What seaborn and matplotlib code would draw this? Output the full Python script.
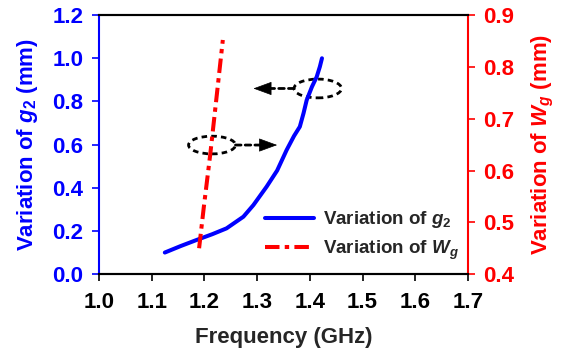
"""Variation of g2 and Wg versus frequency (twin y axes)."""
import matplotlib
matplotlib.use("Agg")
import matplotlib.pyplot as plt
import seaborn as sns
from matplotlib.patches import Ellipse

# data
freq_g2 = [1.125, 1.155, 1.185, 1.215, 1.242, 1.274, 1.293, 1.318, 1.338,
           1.356, 1.370, 1.381, 1.388, 1.394, 1.404, 1.413, 1.419, 1.423]
g2_mm = [0.100, 0.130, 0.158, 0.185, 0.212, 0.266, 0.320, 0.405, 0.480,
         0.575, 0.640, 0.683, 0.745, 0.806, 0.868, 0.914, 0.961, 1.000]
freq_wg = [1.190, 1.199, 1.211, 1.224, 1.235]
wg_mm = [0.45, 0.53, 0.63, 0.75, 0.852]

x_ticks = [1.0, 1.1, 1.2, 1.3, 1.4, 1.5, 1.6, 1.7]
left_ticks = [0.0, 0.2, 0.4, 0.6, 0.8, 1.0, 1.2]
right_ticks = [0.4, 0.5, 0.6, 0.7, 0.8, 0.9]

BLUE = "#0000ff"
RED = "#ff0000"

sns.set_style("ticks")
plt.rcParams["font.family"] = ["Liberation Sans", "DejaVu Sans"]
plt.rcParams["font.weight"] = "bold"
plt.rcParams["mathtext.fontset"] = "custom"
plt.rcParams["mathtext.rm"] = "Liberation Sans:bold"
plt.rcParams["mathtext.it"] = "Liberation Sans:italic:bold"
plt.rcParams["mathtext.bf"] = "Liberation Sans:bold"

fig = plt.figure(figsize=(5.75, 3.51), dpi=100)
ax = fig.add_axes([0.172, 0.219, 0.642, 0.738])
ax2 = ax.twinx()

sns.lineplot(x=freq_g2, y=g2_mm, ax=ax, sort=False, color=BLUE, lw=2.9,
             label=r"Variation of $g_2$", legend=False)
sns.lineplot(x=freq_wg, y=wg_mm, ax=ax2, sort=False, color=RED, lw=2.9,
             label=r"Variation of $W_g$", legend=False)
ax.lines[0].set_solid_capstyle("round")
ax2.lines[0].set_dashes([3.6, 1.3, 1.1, 1.3])

ax.set_xlim(1.0, 1.7)
ax.set_ylim(0.0, 1.2)
ax2.set_ylim(0.4, 0.9)
ax.set_xticks(x_ticks)
ax.set_yticks(left_ticks)
ax2.set_yticks(right_ticks)
ax.set_xticklabels([f"{v:.1f}" for v in x_ticks])
ax.set_yticklabels([f"{v:.1f}" for v in left_ticks])
ax2.set_yticklabels([f"{v:.1f}" for v in right_ticks])

for a in (ax, ax2):
    for s in a.spines.values():
        s.set_linewidth(1.5)
        s.set_color("black")
ax.spines["left"].set_color(BLUE)
ax2.spines["left"].set_visible(False)
ax2.spines["right"].set_color(RED)
ax.spines["right"].set_visible(False)

ax.tick_params(axis="x", direction="out", length=5, width=1.2,
               labelsize=16, colors="black", pad=8)
ax.tick_params(axis="y", direction="out", length=5, width=1.2,
               labelsize=16, colors=BLUE, pad=6)
ax2.tick_params(axis="y", direction="out", length=5, width=1.2,
                labelsize=16, colors=RED, pad=6)

ax.set_xlabel("Frequency (GHz)", fontsize=16, fontweight="bold", labelpad=10)
ax.set_ylabel(r"Variation of $g_2$ (mm)", fontsize=16, fontweight="bold",
              color=BLUE, labelpad=9)
ax2.set_ylabel(r"Variation of $W_g$ (mm)", fontsize=16, fontweight="bold",
               color=RED, labelpad=11)

# dashed ellipses with arrows pointing to the relevant axis
dash = (0, (2, 1.5))
ax.add_patch(Ellipse((1.415, 0.86), 0.09, 0.087, fill=False, ec="black",
                     lw=2, ls=dash))
ax.add_patch(Ellipse((1.2145, 0.598), 0.089, 0.082, fill=False, ec="black",
                     lw=2, ls=dash))

# (tail, head-base, tip) at each arrow's height
arrows = [((1.370, 1.325, 1.293), 0.86), ((1.259, 1.305, 1.338), 0.598)]
for (tail, base, tip), yy in arrows:
    ax.annotate("", xy=(base, yy), xytext=(tail, yy),
                arrowprops=dict(arrowstyle="-", color="black", lw=2, ls=dash,
                                shrinkA=0, shrinkB=0))
    ax.annotate("", xy=(tip, yy), xytext=(base, yy),
                arrowprops=dict(arrowstyle="-|>,head_length=0.6,head_width=0.22",
                                color="black", lw=0.5, mutation_scale=20,
                                shrinkA=0, shrinkB=0))

handles = ax.get_lines()[:1] + ax2.get_lines()[:1]
labels = [h.get_label() for h in handles]
ax.legend(handles, labels, loc="upper left", bbox_to_anchor=(0.45, 0.25),
          frameon=False, fontsize=13.5, handlelength=2.6, handletextpad=0.5,
          labelspacing=0.45, borderpad=0, borderaxespad=0)

fig.savefig("out.png", dpi=100)
